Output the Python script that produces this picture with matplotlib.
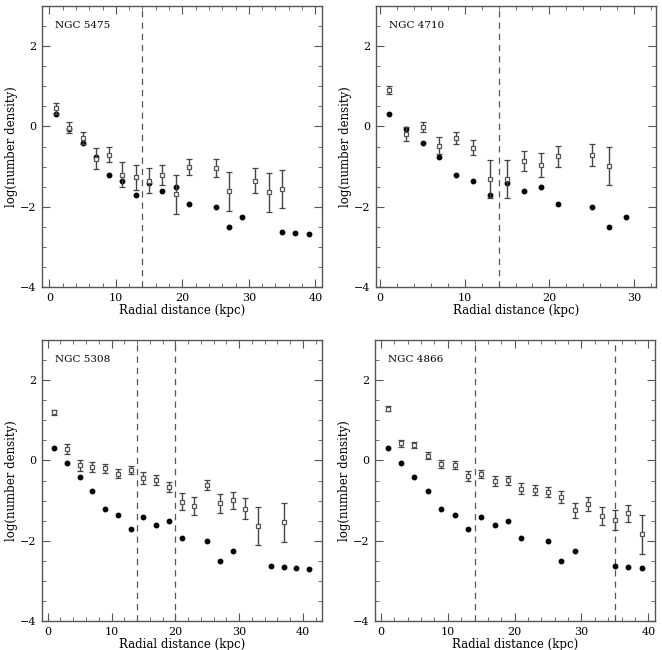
import matplotlib
matplotlib.use('Agg')
import matplotlib.pyplot as plt
from matplotlib.ticker import MultipleLocator

# reference profile (filled dots), shared by all panels
ref_r = [1, 3, 5, 7, 9, 11, 13, 15, 17, 19, 21, 25, 27, 29, 35, 37, 39, 41]
ref_v = [0.31, -0.07, -0.41, -0.77, -1.20, -1.36, -1.72, -1.42, -1.62, -1.52,
         -1.93, -2.01, -2.51, -2.25, -2.63, -2.65, -2.68, -2.70]

# NGC 5475
n5475_r = [1, 3, 5, 7, 9, 11, 13, 15, 17, 19, 21, 25, 27, 31, 33, 35]
n5475_v = [0.45, -0.03, -0.28, -0.80, -0.70, -1.20, -1.27, -1.35, -1.21, -1.69,
           -1.00, -1.03, -1.62, -1.35, -1.64, -1.56]
n5475_e = [0.13, 0.13, 0.15, 0.26, 0.19, 0.32, 0.32, 0.32, 0.26, 0.48,
           0.20, 0.22, 0.49, 0.32, 0.48, 0.48]

# NGC 4710
n4710_r = [1, 3, 5, 7, 9, 11, 13, 15, 17, 19, 21, 25, 27]
n4710_v = [0.91, -0.19, -0.02, -0.48, -0.30, -0.53, -1.31, -1.31, -0.86, -0.95,
           -0.74, -0.71, -0.98]
n4710_e = [0.09, 0.18, 0.13, 0.21, 0.15, 0.18, 0.48, 0.48, 0.26, 0.30,
           0.26, 0.27, 0.48]

# NGC 5308
n5308_r = [1, 3, 5, 7, 9, 11, 13, 15, 17, 19, 21, 23, 25, 27, 29, 31, 33, 37]
n5308_v = [1.20, 0.28, -0.12, -0.16, -0.20, -0.33, -0.24, -0.44, -0.49, -0.66,
           -1.03, -1.13, -0.61, -1.07, -0.99, -1.20, -1.63, -1.54]
n5308_e = [0.06, 0.12, 0.14, 0.13, 0.12, 0.12, 0.11, 0.14, 0.12, 0.13,
           0.21, 0.23, 0.13, 0.24, 0.21, 0.26, 0.48, 0.48]

# NGC 4866
n4866_r = [1, 3, 5, 7, 9, 11, 13, 15, 17, 19, 21, 23, 25, 27, 29, 31, 33, 35, 37, 39]
n4866_v = [1.29, 0.43, 0.39, 0.12, -0.08, -0.12, -0.38, -0.35, -0.52, -0.49,
           -0.70, -0.73, -0.79, -0.92, -1.24, -1.08, -1.39, -1.49, -1.32, -1.84]
n4866_e = [0.06, 0.09, 0.08, 0.09, 0.10, 0.10, 0.12, 0.10, 0.12, 0.11,
           0.14, 0.12, 0.13, 0.15, 0.19, 0.17, 0.22, 0.25, 0.22, 0.48]

panels = [
    ('NGC 5475', n5475_r, n5475_v, n5475_e, 39, [14], (-1.1, 41.0)),
    ('NGC 4710', n4710_r, n4710_v, n4710_e, 29, [14], (-0.5, 32.6)),
    ('NGC 5308', n5308_r, n5308_v, n5308_e, 41, [14, 20], (-0.9, 43.0)),
    ('NGC 4866', n4866_r, n4866_v, n4866_e, 39, [14, 35], (-0.9, 41.0)),
]

# axes boxes in pixels: left, top, right, bottom
boxes = [(42, 6, 322, 287), (376, 6, 656, 287),
         (42, 340, 322, 621), (375, 340, 655, 621)]

plt.rcParams['font.family'] = ['DejaVu Serif']
plt.rcParams['font.size'] = 8

W, H = 662, 650
fig = plt.figure(figsize=(W / 100, H / 100), dpi=100)

frame = '#555555'
for (name, r, v, e, rmax, cuts, xl), (l, t, rr, b) in zip(panels, boxes):
    ax = fig.add_axes([l / W, (H - b) / H, (rr - l) / W, (b - t) / H])
    ref_x = [x for x in ref_r if x <= rmax]
    ref_y = ref_v[:len(ref_x)]
    ax.plot(ref_x, ref_y, 'o', color='black', markersize=3.2, zorder=3)
    ax.errorbar(r, v, yerr=e, fmt='s', mfc='white', mec='#555555',
                ecolor='#444444', elinewidth=1.0, capsize=2.2, capthick=0.9,
                markersize=3.5, markeredgewidth=0.9, zorder=4)
    for c in cuts:
        ax.axvline(c, color='#555555', linestyle=(0, (5, 4)), linewidth=0.9)
    ax.set_xlim(*xl)
    ax.set_ylim(-4, 3)
    ax.xaxis.set_major_locator(MultipleLocator(10))
    ax.xaxis.set_minor_locator(MultipleLocator(2))
    ax.yaxis.set_major_locator(MultipleLocator(2))
    ax.yaxis.set_minor_locator(MultipleLocator(0.5))
    ax.tick_params(which='both', direction='in', top=True, right=True,
                   color=frame, labelsize=8, pad=4)
    ax.tick_params(which='major', length=6)
    ax.tick_params(which='minor', length=3)
    for s in ax.spines.values():
        s.set_color(frame)
        s.set_linewidth(1.0)
    ax.set_xlabel('Radial distance (kpc)', fontsize=8.5, labelpad=1)
    ax.set_ylabel('log(number density)', fontsize=8.5)
    ax.yaxis.set_label_coords(-0.085, 0.5)
    ax.text(0.045, 0.93, name, transform=ax.transAxes, fontsize=7.5,
            va='center', ha='left')

fig.savefig('out.png', dpi=100)
